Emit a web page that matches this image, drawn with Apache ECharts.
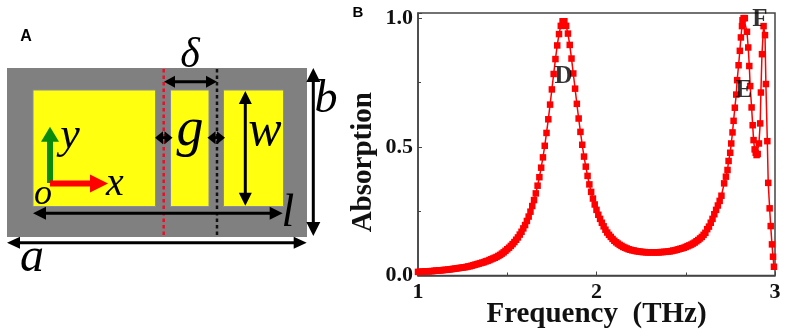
<!DOCTYPE html>
<html><head><meta charset="utf-8">
<style>html,body{margin:0;padding:0;background:#fff}#c{width:785px;height:336px}</style>
<script src="https://cdn.jsdelivr.net/npm/echarts@6/dist/echarts.min.js"></script>
</head><body><div id="c"></div>
<script>
// Absorption spectrum
const gridStart = 1.00;   // first frequency of gridValues, step 0.01 THz
const gridValues = [
.014,.014,.015,.015,.016,.016,.016,.017,.017,.018,
.019,.019,.020,.020,.021,.022,.022,.023,.024,.025,
.026,.027,.028,.029,.030,.031,.032,.033,.035,.036,
.038,.040,.042,.044,.046,.048,.050,.052,.055,.057,
.060,.063,.066,.069,.072,.076,.080,.085,.090,.096,
.102,.108,.115,.122,.130,.139,.148,.159,.170,.183,
.196,.212,.229,.248,.270,.293,.319,.349,.382,.419,
.459,.504,.554,.607,.664,.723,.783,.841,.894,.938,
.970,.988,.988,.970,.940,.896,.843,.785,.726,.667,
.610,.558,.508,.462,.423,.387,.354,.325,.299,.276,
.255,.236,.220,.205,.191,.178,.167,.158,.150,.142,
.135,.129,.124,.119,.115,.111,.108,.105,.102,.100,
.098,.097,.095,.094,.093,.092,.091,.091,.090,.090,
.090,.090,.090,.090,.090,.090,.091,.091,.092,.092,
.093,.094,.095,.097,.098,.100,.102,.104,.106,.108,
.111,.114,.117,.120,.124,.128,.133,.138,.144,.150,
.158,.166,.180,.190,.205,.220,.238,.255,.272,.290,.310];
const highFreqs = [2.715,2.725,2.734,2.740,2.749,2.755,2.762,2.768,2.775,2.783,2.788,2.796,2.803,2.809,2.815,2.818,2.824,2.831,2.843,2.850,2.856,2.861,2.869,2.875,2.880,2.886,2.892,2.897,2.903,2.910,2.917,2.921,2.927,2.936,2.944,2.949,2.957,2.962,2.970,2.976,2.983,2.989,2.994];
const highValues = [.358,.384,.410,.445,.477,.513,.556,.601,.652,.703,.759,.817,.873,.925,.969,.992,1.0,1.0,.947,.886,.814,.736,.653,.584,.526,.490,.477,.468,.472,.513,.591,.711,.860,.969,.934,.744,.522,.360,.261,.192,.121,.073,.034];
const peakNames = ['D','E','F'];
const peakFreqs = [1.815,2.826,2.915];
const peakValues = [0.775,0.717,0.995];

const spectrum = [];
gridValues.forEach((v,i)=>spectrum.push([+(gridStart+i*0.01).toFixed(2),v]));
highFreqs.forEach((f,i)=>spectrum.push([f,highValues[i]]));

// Panel A schematic
const g = [];
const rect=(x0,y0,x1,y1,fill,stroke)=>g.push({type:'rect',shape:{x:x0,y:y0,width:x1-x0,height:y1-y0},style:{fill,stroke:stroke||null,lineWidth:stroke?1:0}});
const dotted=(x,y0,y1,color)=>g.push({type:'line',shape:{x1:x,y1:y0,x2:x,y2:y1},style:{stroke:color,lineWidth:2.5,lineDash:[3.5,3]}});
function head(x,y,dx,dy,len,hw,color){
  const px=-dy,py=dx;
  g.push({type:'polygon',shape:{points:[[x,y],[x-dx*len+px*hw,y-dy*len+py*hw],[x-dx*len-px*hw,y-dy*len-py*hw]]},style:{fill:color}});
}
function arrow(x1,y1,x2,y2,opt){
  const o=Object.assign({color:'#000',w:3,len:12,hw:6.5,both:true},opt||{});
  const L=Math.hypot(x2-x1,y2-y1),dx=(x2-x1)/L,dy=(y2-y1)/L;
  g.push({type:'line',shape:{x1:x1+(o.both?dx*o.len*.7:0),y1:y1+(o.both?dy*o.len*.7:0),x2:x2-dx*o.len*.7,y2:y2-dy*o.len*.7},style:{stroke:o.color,lineWidth:o.w}});
  head(x2,y2,dx,dy,o.len,o.hw,o.color);
  if(o.both) head(x1,y1,-dx,-dy,o.len,o.hw,o.color);
}
const text=(s,x,y,size,opt)=>g.push({type:'text',x,y,style:Object.assign({text:s,fontFamily:'"Liberation Serif"',fontStyle:'italic',fontSize:size,fill:'#000',align:'center',verticalAlign:'middle'},opt||{})});

rect(7,68,307,237,'#808080');
rect(33,90,155.5,206.5,'#ffff10','#8a8aa0');
rect(170.5,90,209,206.5,'#ffff10','#8a8aa0');
rect(223.5,90,283.5,206.5,'#ffff10','#8a8aa0');
dotted(163.7,69,236,'#e8102a');
dotted(217,69,236,'#111');
arrow(164,81.7,217,81.7,{len:11,hw:6});
arrow(155,137.7,172.5,137.7,{len:8,hw:6.5});
arrow(207.5,137.7,225,137.7,{len:8,hw:6.5});
arrow(245.3,91,245.3,205.7,{len:13,hw:6.5});
arrow(313.3,68,313.3,236,{len:14,hw:7});
arrow(33,213.3,282.7,213.3,{len:13,hw:6.5});
arrow(7,242.7,306.7,242.7,{len:13,hw:6});
arrow(50,183,50,126.7,{color:'#0a8a0a',w:6,len:15,hw:9,both:false});
arrow(50,183.5,108,183.5,{color:'#ff0000',w:6,len:18,hw:9,both:false});
text('\u03b4',190,56,42);
text('g',190,131,54);
text('w',265,132,50);
text('b',326,100,46);
text('l',288,214,46);
text('a',32,258,48);
text('x',115,184,40);
text('y',70,136,44);
text('o',43,195,36);
text('A',26,37,16,{fontFamily:'"Liberation Sans"',fontStyle:'normal',fontWeight:'bold'});
text('B',358,13,15,{fontFamily:'"Liberation Sans"',fontStyle:'normal',fontWeight:'bold'});

const serifBold={fontFamily:'"Liberation Serif"',fontWeight:'bold',color:'#111'};
const axisLine={lineStyle:{color:'#444',width:1.5}};
const chart=echarts.init(document.getElementById('c'),null,{renderer:'canvas'});
chart.setOption({
  animation:false,
  backgroundColor:'#fff',
  grid:{left:418,right:10,top:13,bottom:60.5,outerBoundsMode:'none',show:true,borderColor:'#444',borderWidth:1.5,backgroundColor:'transparent'},
  xAxis:{type:'value',min:1,max:3,interval:1,name:'Frequency  (THz)',nameLocation:'middle',nameGap:25,nameMoveOverlap:false,
    nameTextStyle:{...serifBold,fontSize:29},
    axisLine:{show:true,...axisLine},splitLine:{show:false},
    axisTick:{show:true,inside:true,length:4,lineStyle:{color:'#444',width:1}},
    minorTick:{show:true,splitNumber:2,length:3,lineStyle:{color:'#444',width:1}},
    axisLabel:{...serifBold,fontSize:22,margin:6,formatter:v=>String(v)}},
  yAxis:{type:'value',min:0,max:1.02,interval:0.5,name:'Absorption',nameLocation:'middle',nameGap:40,nameMoveOverlap:false,
    nameTextStyle:{...serifBold,fontSize:29,padding:[0,36,0,0]},
    axisLine:{show:true,...axisLine},splitLine:{show:false},
    axisTick:{show:true,inside:true,length:4,lineStyle:{color:'#444',width:1}},
    minorTick:{show:true,splitNumber:2,length:3,lineStyle:{color:'#444',width:1}},
    axisLabel:{...serifBold,fontSize:22,margin:5,formatter:v=>v>1.01?'':v.toFixed(1)}},
  series:[
    {type:'line',data:spectrum,symbol:'rect',symbolSize:6.5,showAllSymbol:true,
     lineStyle:{color:'#ff0000',width:1.5},itemStyle:{color:'#ff0000'}},
    {type:'scatter',symbolSize:0,silent:true,z:5,
     data:peakNames.map((n,i)=>({name:n,value:[peakFreqs[i],peakValues[i]]})),
     label:{show:true,position:'inside',formatter:p=>p.name,fontFamily:'"Liberation Serif"',fontWeight:'bold',fontSize:25,color:'#000'}}
  ],
  graphic:g
});
</script></body></html>
